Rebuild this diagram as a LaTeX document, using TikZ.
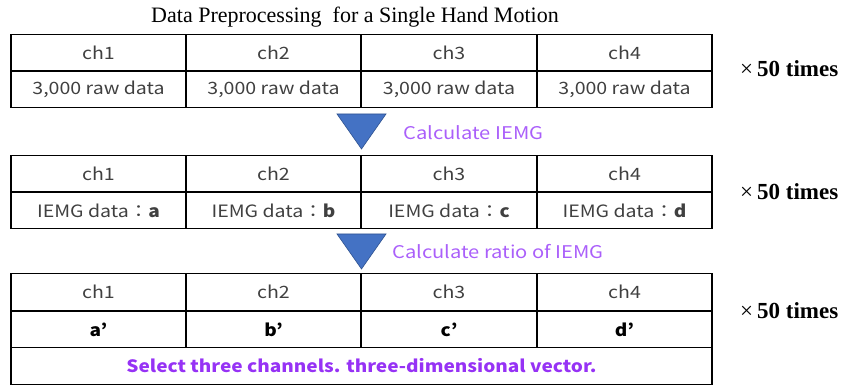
\documentclass[tikz,border=0pt]{standalone}
\usepackage{fontspec}
\setmainfont{Liberation Serif}
\newfontfamily\jp[FakeStretch=1.15, BoldFeatures={FakeStretch=1.12}]{Noto Sans CJK JP}
\usetikzlibrary{positioning}
\definecolor{txt}{RGB}{64,64,64}
\definecolor{lbl}{RGB}{170,95,250}
\definecolor{sel}{RGB}{150,50,245}
\definecolor{tri}{RGB}{68,114,196}
\definecolor{trib}{RGB}{47,82,143}
\tikzset{
  cell/.style={draw=black, line width=1.1pt, minimum width=175pt, minimum height=36.5pt, inner sep=0pt, font=\jp\fontsize{17}{20}\selectfont, text=txt},
  wide/.style={cell, minimum width=701pt},
  lab/.style={anchor=west, inner sep=0pt, font=\jp\fontsize{17.5}{20}\selectfont, text=lbl},
  times/.style={anchor=west, inner sep=0pt, font=\fontsize{23}{26}\selectfont},
  tribox/.style={fill=tri, draw=trib, line width=0.6pt}
}
\begin{document}
\begin{tikzpicture}[x=1pt,y=-1pt]
\useasboundingbox (0,0) rectangle (846,387);
\node[inner sep=0pt, font=\fontsize{22}{26}\selectfont] (title) at (355,17) {Data Preprocessing\ \ for a Single Hand Motion};
% table 1
\foreach \i/\cx in {1/98.5,2/273.5,3/449,4/624.5}{
  \node[cell] (ta\i) at (\cx,53) {ch\i};
  \node[cell] (tb\i) at (\cx,89) {3,000 raw data};
}
\node[times] (x1) at (740,69) {×\kern4pt\textbf{50 times}};
% arrow 1
\draw[tribox] (337,114) -- (386,114) -- (361.5,149) -- cycle;
\node[lab] (c1) at (403,133) {Calculate IEMG};
% table 2
\node[cell] (ua1) at (98.5,173.5) {ch1};
\node[cell] (ua2) at (273.5,173.5) {ch2};
\node[cell] (ua3) at (449,173.5) {ch3};
\node[cell] (ua4) at (624.5,173.5) {ch4};
\node[cell] (ub1) at (98.5,210.5) {IEMG data：\textbf{a}};
\node[cell] (ub2) at (273.5,210.5) {IEMG data：\textbf{b}};
\node[cell] (ub3) at (449,210.5) {IEMG data：\textbf{c}};
\node[cell] (ub4) at (624.5,210.5) {IEMG data：\textbf{d}};
\node[times] (x2) at (740,192) {×\kern4pt\textbf{50 times}};
% arrow 2
\draw[tribox] (337,234) -- (386,234) -- (361.5,269) -- cycle;
\node[lab] (c2) at (392,252) {Calculate ratio of IEMG};
% table 3
\node[cell] (va1) at (98.5,292) {ch1};
\node[cell] (va2) at (273.5,292) {ch2};
\node[cell] (va3) at (449,292) {ch3};
\node[cell] (va4) at (624.5,292) {ch4};
\node[cell, text=black] (vb1) at (98.5,329.5) {\textbf{a’}};
\node[cell, text=black] (vb2) at (273.5,329.5) {\textbf{b’}};
\node[cell, text=black] (vb3) at (449,329.5) {\textbf{c’}};
\node[cell, text=black] (vb4) at (624.5,329.5) {\textbf{d’}};
\node[wide, text=sel] (vc) at (361.5,366) {\textbf{Select three channels. three-dimensional vector.}};
\node[times] (x3) at (740,311) {×\kern4pt\textbf{50 times}};
\end{tikzpicture}
\end{document}
